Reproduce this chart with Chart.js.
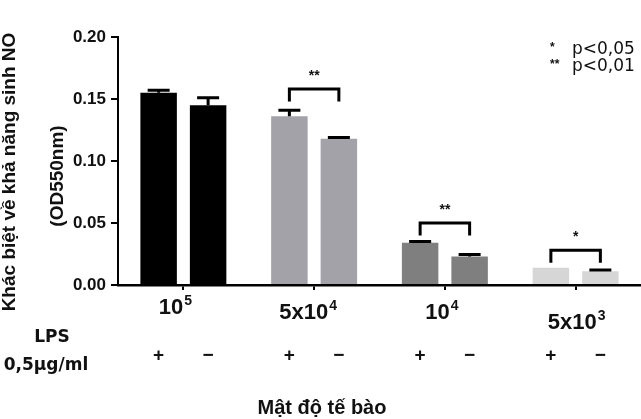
<!DOCTYPE html>
<html lang="vi">
<head>
<meta charset="UTF-8">
<title>Khác biệt về khả năng sinh NO</title>
<script src="https://cdn.jsdelivr.net/npm/chart.js@4"></script>
<style>
  html, body { margin: 0; padding: 0; background: #fff; }
  .chart-container { position: relative; width: 641px; height: 419px; }
</style>
</head>
<body>
<div class="chart-container"><canvas id="noChart" width="641" height="419"></canvas></div>
<script>
// cell density groups (base + superscript exponent)
const densities = ['10', '5x10', '10', '5x10'];
const densityExponents = ['5', '4', '4', '3'];
// OD550nm, LPS 0,5ug/ml + and -
const lpsPlus = [0.155, 0.136, 0.034, 0.014];
const lpsPlusErr = [0.002, 0.005, 0.001, 0];
const lpsMinus = [0.145, 0.118, 0.023, 0.011];
const lpsMinusErr = [0.006, 0.001, 0.0015, 0.001];
const groupColors = ['#000000', '#a2a2a8', '#7f7f7f', '#d6d6d6'];
const yTicks = [0, 0.05, 0.10, 0.15, 0.20];
// significance brackets between + and - of each group
const significance = ['', '**', '**', '*'];
const bracketTops = [null, 0.158, 0.050, 0.028];
const bracketLeg = 0.010;
const legendLines = [['*', 'p<0,05'], ['**', 'p<0,01']];

const SANS = '"Liberation Sans", Arial, sans-serif';
const WIDE = '"DejaVu Sans", sans-serif';

const overlay = {
    id: 'overlay',
    afterDatasetsDraw(chart) {
        const ctx = chart.ctx;
        const y = chart.scales.y;
        const vals = [lpsPlus, lpsMinus];
        const errs = [lpsPlusErr, lpsMinusErr];
        ctx.save();
        ctx.strokeStyle = '#000';
        ctx.lineWidth = 3;
        // error bars (upper only)
        [0, 1].forEach(d => {
            chart.getDatasetMeta(d).data.forEach((bar, i) => {
                const e = errs[d][i];
                if (!e) return;
                const base = y.getPixelForValue(vals[d][i]);
                const top = y.getPixelForValue(vals[d][i] + e);
                ctx.beginPath();
                ctx.moveTo(bar.x, base);
                ctx.lineTo(bar.x, top);
                ctx.moveTo(bar.x - 11, top);
                ctx.lineTo(bar.x + 11, top);
                ctx.stroke();
            });
        });
        // brackets + stars
        const m0 = chart.getDatasetMeta(0).data;
        const m1 = chart.getDatasetMeta(1).data;
        ctx.fillStyle = '#111';
        ctx.textAlign = 'center';
        ctx.textBaseline = 'alphabetic';
        ctx.font = 'bold 14px ' + SANS;
        bracketTops.forEach((t, i) => {
            if (t === null) return;
            const yt = y.getPixelForValue(t);
            const yb = y.getPixelForValue(t - bracketLeg);
            ctx.beginPath();
            ctx.moveTo(m0[i].x, yb);
            ctx.lineTo(m0[i].x, yt);
            ctx.lineTo(m1[i].x, yt);
            ctx.lineTo(m1[i].x, yb);
            ctx.stroke();
            ctx.fillText(significance[i], (m0[i].x + m1[i].x) / 2, yt - 9);
        });
        ctx.restore();
    },
    afterDraw(chart) {
        const ctx = chart.ctx;
        const xs = chart.scales.x;
        ctx.save();
        ctx.fillStyle = '#111';
        ctx.textBaseline = 'alphabetic';

        // category labels with superscripts
        const labelBase = [314, 319, 319, 329];
        const labelShift = [-8, -6, -3, 1];
        densities.forEach((txt, i) => {
            ctx.font = 'bold 22px ' + SANS;
            const w1 = ctx.measureText(txt).width;
            ctx.font = 'bold 14px ' + SANS;
            const w2 = ctx.measureText(densityExponents[i]).width;
            const x0 = xs.getPixelForValue(i) + labelShift[i] - (w1 + w2 + 1) / 2;
            ctx.textAlign = 'left';
            ctx.font = 'bold 22px ' + SANS;
            ctx.fillText(txt, x0, labelBase[i]);
            ctx.font = 'bold 14px ' + SANS;
            ctx.fillText(densityExponents[i], x0 + w1 + 1, labelBase[i] - 9);
        });

        // + / - under each bar
        ctx.textAlign = 'center';
        ctx.textBaseline = 'middle';
        ctx.font = 'bold 19px ' + SANS;
        ['+', '\u2212'].forEach((sign, d) => {
            chart.getDatasetMeta(d).data.forEach(bar => ctx.fillText(sign, bar.x, 356));
        });

        // LPS row label
        ctx.font = 'bold 17px ' + WIDE;
        ctx.fillText('LPS', 52, 338);
        ctx.fillText('0,5\u00b5g/ml', 46, 366);

        // x title
        ctx.font = 'bold 20px ' + SANS;
        ctx.fillText('Mật độ tế bào', 322, 408);

        // y title, two lines rotated
        ctx.save();
        ctx.translate(0, 172);
        ctx.rotate(-Math.PI / 2);
        ctx.textBaseline = 'alphabetic';
        ctx.font = 'bold 19px ' + SANS;
        ctx.fillText('Khác biệt về khả năng sinh NO', 0, 15);
        ctx.fillText('(OD550nm)', -4, 63);
        ctx.restore();

        // p-value legend
        ctx.textAlign = 'left';
        ctx.textBaseline = 'alphabetic';
        legendLines.forEach((ln, k) => {
            const by = 54 + k * 17;
            ctx.font = 'bold 12px ' + SANS;
            ctx.fillText(ln[0], 550, by - 3);
            ctx.font = '17px ' + WIDE;
            ctx.fillText(ln[1], 572, by);
        });
        ctx.restore();
    }
};

const ctx = document.getElementById('noChart').getContext('2d');
new Chart(ctx, {
    type: 'bar',
    data: {
        labels: densities.map((d, i) => d + '^' + densityExponents[i]),
        datasets: [
            { label: 'LPS +', data: lpsPlus, backgroundColor: groupColors, borderWidth: 0,
              categoryPercentage: 0.757, barPercentage: 0.737 },
            { label: 'LPS -', data: lpsMinus, backgroundColor: groupColors, borderWidth: 0,
              categoryPercentage: 0.757, barPercentage: 0.737 }
        ]
    },
    options: {
        responsive: false,
        devicePixelRatio: 1,
        animation: false,
        layout: { padding: { top: 37, right: 0, left: 0, bottom: 0 } },
        plugins: { legend: { display: false }, tooltip: { enabled: false } },
        scales: {
            x: {
                offset: true,
                grid: { offset: false, drawOnChartArea: false, drawTicks: true, tickLength: 5, color: '#000', lineWidth: 2 },
                border: { display: true, color: '#000', width: 2.5 },
                ticks: { display: false },
                afterFit: s => { s.height = 419 - 285; }
            },
            y: {
                min: 0,
                max: 0.20,
                afterBuildTicks: s => { s.ticks = yTicks.map(v => ({ value: v })); },
                grid: { drawOnChartArea: false, drawTicks: true, tickLength: 7, color: '#000', lineWidth: 2 },
                border: { display: true, color: '#000', width: 2 },
                ticks: {
                    color: '#111',
                    padding: 5,
                    font: { family: SANS, size: 17, weight: 'bold' },
                    callback: v => Number(v).toFixed(2)
                },
                afterFit: s => { s.width = 118; }
            }
        }
    },
    plugins: [overlay]
});
</script>
</body>
</html>
